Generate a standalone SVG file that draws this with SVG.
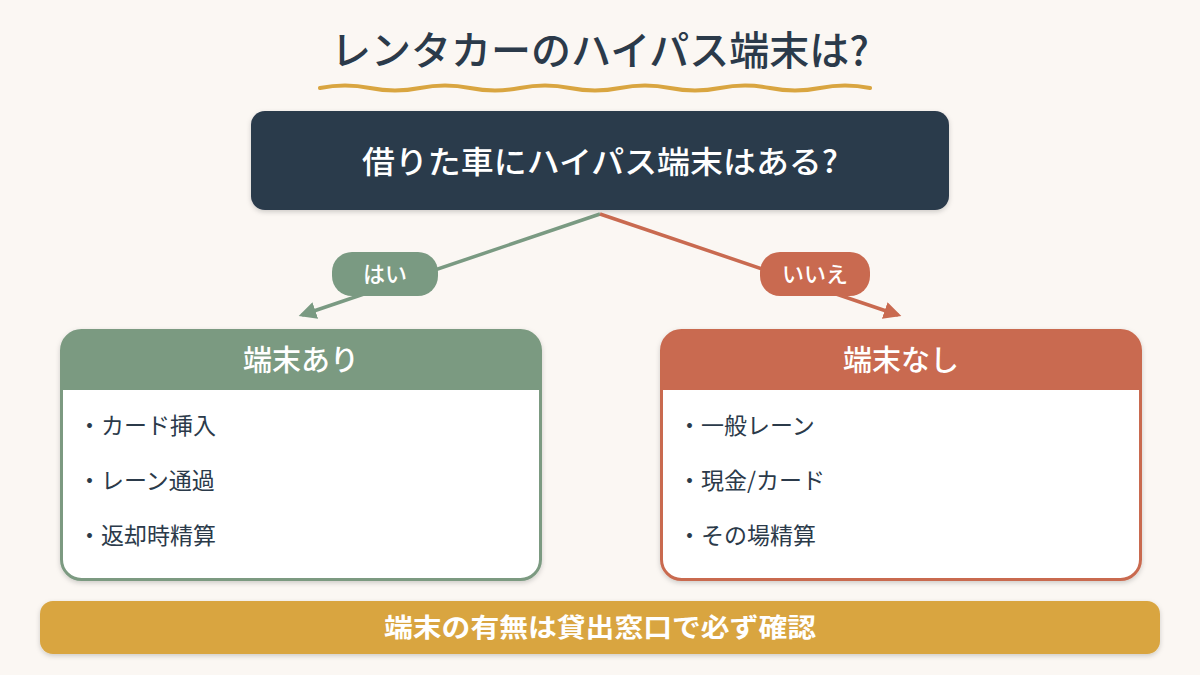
<svg xmlns="http://www.w3.org/2000/svg" width="1200" height="675" viewBox="0 0 1200 675">
<defs>
<filter id="sh" x="-10%" y="-10%" width="120%" height="130%"><feDropShadow dx="0" dy="2" stdDeviation="2.5" flood-color="#000" flood-opacity="0.18"/></filter>
<marker id="ag" viewBox="0 0 10 10" refX="8" refY="5" markerWidth="5" markerHeight="5" orient="auto"><path d="M0,0 L10,5 L0,10 z" fill="#7A9A82"/></marker>
<marker id="ar" viewBox="0 0 10 10" refX="8" refY="5" markerWidth="5" markerHeight="5" orient="auto"><path d="M0,0 L10,5 L0,10 z" fill="#C96A50"/></marker>
<style>
text{font-family:"Noto Sans CJK JP","Noto Sans",sans-serif}
.w{fill:#fff}
.d{fill:#2B3A4A}
.item{font-size:23px;fill:#2B3A4A}
.hd{font-size:29px;font-weight:500;fill:#fff;text-anchor:middle}
.lbl{font-size:22px;font-weight:500;fill:#fff;text-anchor:middle}
</style>
</defs>
<rect width="1200" height="675" fill="#FBF7F3"/>
<g id="title">
<text x="600" y="65" text-anchor="middle" font-size="40" font-weight="500" class="d">レンタカーのハイパス端末は?</text>
<path d="M320,88 q25,-5 50,0 t50,0 t50,0 t50,0 t50,0 t50,0 t50,0 t50,0 t50,0 t50,0 t50,0" fill="none" stroke="#D9A540" stroke-width="4" stroke-linecap="round"/>
</g>
<g id="question">
<rect x="251" y="111" width="698" height="99" rx="14" fill="#2B3A4C" filter="url(#sh)"/>
<text x="600" y="173" text-anchor="middle" font-size="31" font-weight="500" class="w" textLength="476" lengthAdjust="spacingAndGlyphs">借りた車にハイパス端末はある?</text>
</g>
<g id="connectors">
<line x1="600" y1="214" x2="302" y2="315" stroke="#7A9A82" stroke-width="3.5" marker-end="url(#ag)"/>
<line x1="600" y1="214" x2="898" y2="315" stroke="#C96A50" stroke-width="3.5" marker-end="url(#ar)"/>
<g id="label-yes">
<rect x="332" y="252" width="106" height="44" rx="20" fill="#7A9A82"/>
<text x="385" y="282" class="lbl">はい</text>
</g>
<g id="label-no">
<rect x="760" y="252" width="110" height="44" rx="20" fill="#C96A50"/>
<text x="815" y="282" class="lbl">いいえ</text>
</g>
</g>
<g id="card-yes">
<rect x="61.5" y="330.5" width="479" height="249" rx="20" fill="#fff" stroke="#7B9A81" stroke-width="3" filter="url(#sh)"/>
<path d="M61.5,390 V350.5 a20,20 0 0 1 20,-20 H520.5 a20,20 0 0 1 20,20 V390 z" fill="#7B9A81"/>
<text x="301" y="371" class="hd">端末あり</text>
<text x="78" y="434" class="item">・カード挿入</text>
<text x="78" y="489" class="item">・レーン通過</text>
<text x="78" y="544" class="item">・返却時精算</text>
</g>
<g id="card-no">
<rect x="661.5" y="330.5" width="479" height="249" rx="20" fill="#fff" stroke="#C96A50" stroke-width="3" filter="url(#sh)"/>
<path d="M661.5,390 V350.5 a20,20 0 0 1 20,-20 H1120.5 a20,20 0 0 1 20,20 V390 z" fill="#C96A50"/>
<text x="901" y="371" class="hd">端末なし</text>
<text x="678" y="434" class="item">・一般レーン</text>
<text x="678" y="489" class="item">・現金/カード</text>
<text x="678" y="544" class="item">・その場精算</text>
</g>
<g id="note">
<rect x="40" y="601" width="1120" height="53" rx="13" fill="#D9A540" filter="url(#sh)"/>
<text x="600" y="637" text-anchor="middle" font-size="26" font-weight="700" class="w" textLength="432" lengthAdjust="spacingAndGlyphs">端末の有無は貸出窓口で必ず確認</text>
</g>
</svg>
